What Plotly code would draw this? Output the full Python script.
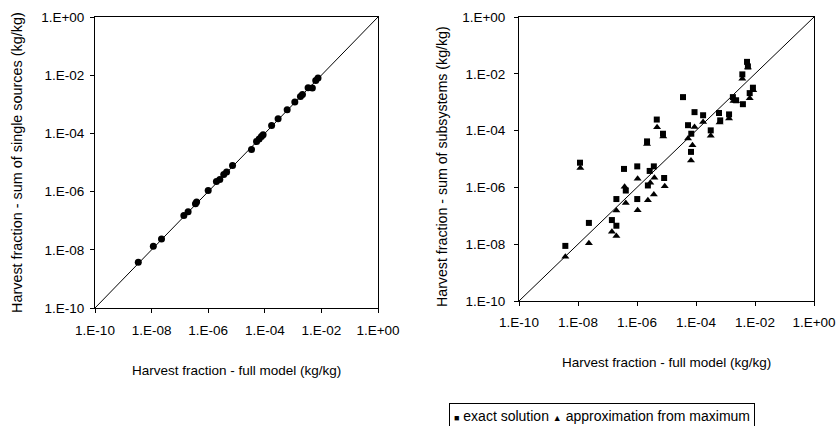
import plotly.graph_objects as go

# Left panel: harvest fraction, full model vs. sum of single sources (kg/kg)
full_model_single = [3.39e-9, 1.15e-8, 2.24e-8, 1.38e-7, 1.95e-7, 3.55e-7, 3.89e-7,
                     1.00e-6, 1.95e-6, 2.57e-6, 3.55e-6, 4.47e-6, 7.24e-6, 3.39e-5,
                     5.13e-5, 6.31e-5, 7.59e-5, 8.71e-5, 1.74e-4, 2.95e-4, 6.17e-4,
                     1.15e-3, 1.82e-3, 2.14e-3, 3.39e-3, 4.79e-3, 6.31e-3, 7.59e-3]
sum_single_sources = [3.72e-9, 1.32e-8, 2.34e-8, 1.51e-7, 2.04e-7, 3.80e-7, 4.37e-7,
                      1.10e-6, 2.24e-6, 2.63e-6, 3.89e-6, 4.68e-6, 7.94e-6, 2.82e-5,
                      5.25e-5, 6.46e-5, 7.76e-5, 8.91e-5, 1.86e-4, 3.16e-4, 6.46e-4,
                      1.20e-3, 1.86e-3, 2.19e-3, 3.72e-3, 3.63e-3, 6.61e-3, 7.94e-3]

# Right panel: full model vs. sum of subsystems, exact solution
full_model_exact = [3.72e-9, 1.17e-8, 2.34e-8, 1.41e-7, 2.00e-7, 2.00e-7, 3.63e-7,
                    4.17e-7, 1.02e-6, 1.02e-6, 2.34e-6, 2.69e-6, 3.72e-6, 8.32e-6,
                    2.19e-6, 4.68e-6, 7.59e-6, 3.63e-5, 5.37e-5, 6.76e-5, 6.92e-5,
                    8.91e-5, 1.74e-4, 3.16e-4, 6.03e-4, 6.61e-4, 1.32e-3, 1.78e-3,
                    2.29e-3, 3.72e-3, 3.89e-3, 5.37e-3, 5.75e-3, 6.61e-3, 8.51e-3]
subsystems_exact = [8.71e-9, 7.41e-6, 5.62e-8, 7.08e-8, 4.47e-8, 3.89e-7, 4.47e-6,
                    7.76e-7, 5.50e-6, 3.89e-7, 1.17e-6, 3.80e-6, 5.50e-6, 2.14e-6,
                    4.17e-5, 2.45e-4, 7.76e-5, 1.51e-3, 1.55e-4, 1.78e-5, 7.76e-5,
                    4.47e-4, 3.47e-4, 1.02e-4, 4.17e-4, 2.29e-4, 3.72e-4, 1.51e-3,
                    1.17e-3, 9.55e-3, 8.51e-4, 2.63e-2, 1.82e-2, 2.09e-3, 3.24e-3]

# Right panel: full model vs. sum of subsystems, approximation from maximum
full_model_approx = [3.72e-9, 1.20e-8, 2.34e-8, 1.41e-7, 2.00e-7, 2.00e-7, 3.80e-7,
                     4.17e-7, 1.05e-6, 1.05e-6, 2.34e-6, 2.82e-6, 3.72e-6, 3.89e-6,
                     8.71e-6, 2.19e-6, 4.79e-6, 7.76e-6, 5.37e-5, 6.76e-5, 7.59e-5,
                     8.91e-5, 1.74e-4, 3.16e-4, 6.31e-4, 1.32e-3, 1.86e-3, 2.29e-3,
                     3.72e-3, 5.75e-3, 6.61e-3, 8.71e-3]
subsystems_approx = [3.63e-9, 4.79e-6, 1.07e-8, 2.75e-8, 1.95e-8, 1.55e-7, 1.05e-6,
                     2.82e-7, 2.00e-6, 1.58e-7, 3.55e-7, 1.45e-6, 5.62e-7, 2.19e-6,
                     1.10e-6, 3.39e-5, 1.32e-4, 6.17e-5, 5.25e-5, 8.91e-6, 3.02e-5,
                     1.35e-4, 2.00e-4, 6.61e-5, 1.91e-4, 2.69e-4, 1.10e-3, 1.07e-3,
                     6.76e-3, 1.66e-2, 1.38e-3, 2.63e-3]

# 1:1 reference line and decade ticks
identity = [1e-10, 1.0]
tick_values = [1e-10, 1e-8, 1e-6, 1e-4, 1e-2, 1.0]
tick_labels = ["1.E-10", "1.E-08", "1.E-06", "1.E-04", "1.E-02", "1.E+00"]

FONT = "Liberation Sans, Arial, sans-serif"

fig = go.Figure()

fig.add_trace(go.Scatter(x=identity, y=identity, mode="lines",
                         line=dict(color="black", width=1),
                         xaxis="x", yaxis="y", showlegend=False, hoverinfo="skip"))
fig.add_trace(go.Scatter(x=full_model_single, y=sum_single_sources, mode="markers",
                         marker=dict(symbol="circle", size=7, color="black"),
                         xaxis="x", yaxis="y", showlegend=False))

fig.add_trace(go.Scatter(x=identity, y=identity, mode="lines",
                         line=dict(color="black", width=1),
                         xaxis="x2", yaxis="y2", showlegend=False, hoverinfo="skip"))
fig.add_trace(go.Scatter(x=full_model_exact, y=subsystems_exact, mode="markers",
                         name="exact solution",
                         marker=dict(symbol="square", size=6, color="black"),
                         xaxis="x2", yaxis="y2", showlegend=False))
fig.add_trace(go.Scatter(x=full_model_approx, y=subsystems_approx, mode="markers",
                         name="approximation from maximum",
                         marker=dict(symbol="triangle-up", size=7, color="black"),
                         xaxis="x2", yaxis="y2", showlegend=False))

W, H = 839, 426


def px(xp):
    return xp / W


def py(yp):
    return 1 - yp / H


axis_common = dict(type="log", range=[-10, 0], tickvals=tick_values, ticktext=tick_labels,
                   showgrid=False, zeroline=False, showline=True, linecolor="black",
                   linewidth=1, mirror=True, ticks="outside", ticklen=4, tickwidth=1,
                   tickcolor="black", automargin=False,
                   tickfont=dict(family=FONT, size=13.5, color="black"))

fig.update_layout(
    template="none",
    width=W, height=H, autosize=False,
    margin=dict(l=0, r=0, t=0, b=0, pad=0, autoexpand=False),
    paper_bgcolor="white", plot_bgcolor="white",
    font=dict(family=FONT, color="black"),
    xaxis=dict(domain=[px(95), px(378)], anchor="y", ticklabelstandoff=6, **axis_common),
    yaxis=dict(domain=[py(308), py(17)], anchor="x", ticklabelstandoff=3, **axis_common),
    xaxis2=dict(domain=[px(519), px(814)], anchor="y2", ticklabelstandoff=5, **axis_common),
    yaxis2=dict(domain=[py(301), py(17)], anchor="x2", ticklabelstandoff=6, **axis_common),
)

annotations = [
    dict(text="Harvest fraction - full model (kg/kg)", x=px(236.5), y=py(370),
         font=dict(size=13.5)),
    dict(text="Harvest fraction - full model (kg/kg)", x=px(666.5), y=py(362),
         font=dict(size=13.5)),
    dict(text="Harvest fraction - sum of single sources (kg/kg)", x=px(17), y=py(163),
         textangle=-90, font=dict(size=14.4)),
    dict(text="Harvest fraction - sum of subsystems (kg/kg)", x=px(442), y=py(167),
         textangle=-90, font=dict(size=14.2)),
]
for a in annotations:
    a.update(xref="paper", yref="paper", showarrow=False, xanchor="center", yanchor="middle")
    fig.add_annotation(**a)

# Legend box for the two series of the right panel
fig.add_annotation(
    text='<span style="font-size:9px">■</span> exact solution '
         '<span style="font-size:9px">▲</span> approximation from maximum',
    xref="paper", yref="paper", x=px(449), y=py(403), xanchor="left", yanchor="top",
    showarrow=False, font=dict(size=14), bgcolor="white",
    bordercolor="black", borderwidth=1, borderpad=4,
)

fig.write_html("out.html")
